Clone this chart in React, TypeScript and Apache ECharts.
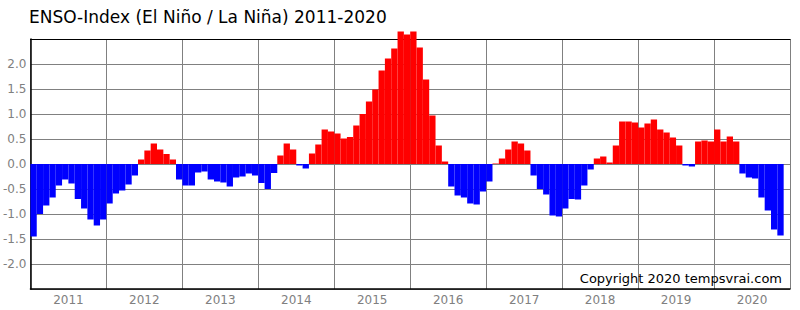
import React, { useEffect, useRef } from 'react';
import * as echarts from 'echarts';

const years = ['2011', '2012', '2013', '2014', '2015', '2016', '2017', '2018', '2019', '2020'];
const monthNames = ['01', '02', '03', '04', '05', '06', '07', '08', '09', '10', '11', '12'];

const v2011 = [-1.45, -1.0, -0.83, -0.67, -0.43, -0.31, -0.39, -0.7, -0.89, -1.11, -1.23, -1.11];
const v2012 = [-0.79, -0.59, -0.53, -0.41, -0.23, 0.09, 0.27, 0.41, 0.29, 0.2, 0.09, -0.31];
const v2013 = [-0.43, -0.43, -0.17, -0.15, -0.31, -0.35, -0.37, -0.45, -0.27, -0.25, -0.19, -0.23];
const v2014 = [-0.38, -0.5, -0.18, 0.17, 0.41, 0.29, -0.03, -0.09, 0.21, 0.39, 0.69, 0.65];
const v2015 = [0.61, 0.51, 0.54, 0.77, 1.0, 1.25, 1.49, 1.87, 2.11, 2.31, 2.65, 2.59];
const v2016 = [2.65, 2.33, 1.69, 0.97, 0.37, 0.05, -0.45, -0.63, -0.67, -0.79, -0.81, -0.55];
const v2017 = [-0.35, 0.01, 0.11, 0.29, 0.45, 0.41, 0.27, -0.23, -0.5, -0.61, -1.03, -1.05];
const v2018 = [-0.89, -0.7, -0.71, -0.43, -0.11, 0.11, 0.15, 0.03, 0.37, 0.85, 0.85, 0.83];
const v2019 = [0.73, 0.81, 0.89, 0.69, 0.63, 0.53, 0.37, -0.03, -0.05, 0.45, 0.47, 0.45];
const v2020 = [0.69, 0.45, 0.55, 0.45, -0.19, -0.27, -0.29, -0.67, -0.93, -1.31, -1.43];

const yearValues = [v2011, v2012, v2013, v2014, v2015, v2016, v2017, v2018, v2019, v2020];

const months: string[] = [];
years.forEach((y) => monthNames.forEach((m) => months.push(`${y}-${m}`)));
const values: number[] = ([] as number[]).concat(...yearValues);

const TITLE = 'ENSO-Index (El Niño / La Niña) 2011-2020';
const COPYRIGHT = 'Copyright 2020 tempsvrai.com';

export default function App() {
  const ref = useRef<HTMLDivElement>(null);
  useEffect(() => {
    if (!ref.current) return;
    const chart = echarts.init(ref.current, undefined, { renderer: 'svg' });
    const font = 'DejaVu Sans';
    chart.setOption({
      animation: false,
      backgroundColor: '#ffffff',
      title: {
        text: TITLE,
        left: 29,
        top: 8,
        padding: 0,
        textStyle: { fontFamily: font, fontSize: 17, fontWeight: 'normal', color: '#000000' },
      },
      grid: { left: 30, top: 39, width: 760, height: 250, containLabel: false },
      xAxis: [
        {
          type: 'category',
          data: months,
          position: 'top',
          boundaryGap: true,
          axisLine: { show: true, onZero: false, lineStyle: { color: '#000000', width: 1 } },
          axisTick: { show: false },
          axisLabel: { show: false },
          splitLine: { show: false },
        },
        {
          type: 'category',
          data: years,
          position: 'bottom',
          boundaryGap: true,
          axisLine: { show: true, onZero: false, lineStyle: { color: '#000000', width: 1.5 } },
          axisTick: { show: false },
          axisLabel: { color: '#808080', fontFamily: font, fontSize: 12, margin: 5, interval: 0 },
          splitLine: { show: true, interval: 0, lineStyle: { color: '#808080', width: 1 } },
        },
      ],
      yAxis: {
        type: 'value',
        min: -2.5,
        max: 2.5,
        interval: 0.5,
        axisLine: { show: true, onZero: false, lineStyle: { color: '#000000', width: 1.5 } },
        axisTick: { show: false },
        axisLabel: {
          color: '#808080',
          fontFamily: font,
          fontSize: 12,
          margin: 4,
          formatter: (v: number) => (Math.abs(v) > 2.4 ? '' : v.toFixed(1)),
        },
        splitLine: { show: true, lineStyle: { color: '#808080', width: 1 } },
      },
      series: [
        {
          type: 'bar',
          xAxisIndex: 0,
          data: values,
          barCategoryGap: '0%',
          clip: false,
          itemStyle: {
            color: (p: any) => (p.value >= 0 ? '#ff0000' : '#0000ff'),
          },
        },
      ],
      graphic: [
        {
          type: 'text',
          x: 782,
          y: 278,
          z: 100,
          style: {
            text: COPYRIGHT,
            fill: '#000000',
            font: `13px "${font}"`,
            align: 'right',
            verticalAlign: 'middle',
            textAlign: 'right',
            textVerticalAlign: 'middle',
          },
        },
      ],
    });
    return () => chart.dispose();
  }, []);
  return (
    <div
      ref={ref}
      style={{ position: 'fixed', left: 0, top: 0, width: 800, height: 310, background: '#fff' }}
    />
  );
}
